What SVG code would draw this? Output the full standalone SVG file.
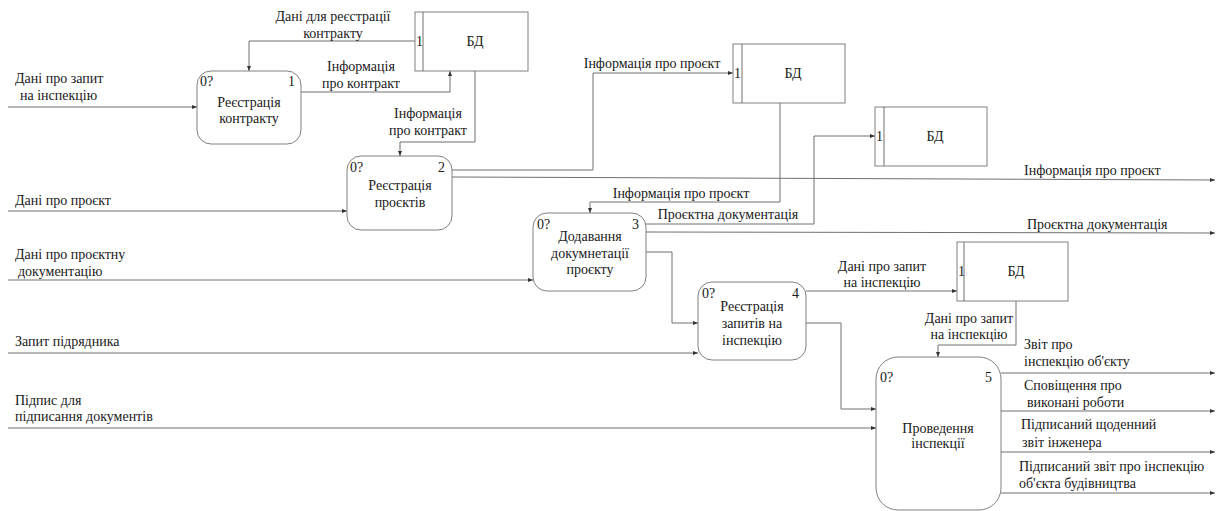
<svg xmlns="http://www.w3.org/2000/svg" width="1224" height="511" viewBox="0 0 1224 511">
  <style>
    text { font-family: "Liberation Serif", "Times New Roman", serif; font-size: 14px; fill: #1a1a1a; }
    .c { text-anchor: middle; }
    .proc { fill: #ffffff; stroke: #808080; stroke-width: 1; }
    .store { fill: #ffffff; stroke: #808080; stroke-width: 1; }
    .flow { fill: none; stroke: #707070; stroke-width: 1; marker-end: url(#arr); }
    .plain { fill: none; stroke: #707070; stroke-width: 1; }
  </style>
  <defs>
    <marker id="arr" markerUnits="userSpaceOnUse" markerWidth="6" markerHeight="6" refX="5" refY="3" orient="auto">
      <path d="M0,1 L5,3 L0,5 z" fill="#333"/>
    </marker>
  </defs>
  <rect width="1224" height="511" fill="#ffffff"/>

  <!-- data flows -->
  <g id="connectors">
    <!-- external inputs -->
    <path class="flow" d="M8,107 H197"/>
    <path class="flow" d="M8,211 H347"/>
    <path class="flow" d="M8,280 H533"/>
    <path class="flow" d="M8,353 H698"/>
    <path class="flow" d="M8,428 H876"/>
    <!-- store 1 <-> process 1 / 2 -->
    <path class="flow" d="M415,41 H249 V71"/>
    <path class="flow" d="M301,92 H450 V71"/>
    <path class="flow" d="M475,71 V142 H400 V156"/>
    <!-- process 2 -->
    <path class="flow" d="M452,170 H593 V73 H733"/>
    <path class="flow" d="M452,177 L1215,180"/>
    <!-- store 2 -> process 3 -->
    <path class="flow" d="M780,103 V202 H590 V213"/>
    <!-- process 3 -->
    <path class="flow" d="M646,224 H814 V136 H875"/>
    <path class="flow" d="M646,232 L1215,233"/>
    <path class="flow" d="M646,252 H672 V323 H698"/>
    <!-- process 4 -->
    <path class="flow" d="M806,291 H957"/>
    <path class="flow" d="M806,323 H841 V409 H876"/>
    <!-- store 4 -> process 5 -->
    <path class="flow" d="M1016,301 V345 H938 V357"/>
    <!-- process 5 outputs -->
    <path class="flow" d="M1001,373 H1215"/>
    <path class="flow" d="M1001,411 H1215"/>
    <path class="flow" d="M1001,452 H1215"/>
    <path class="flow" d="M1001,493 H1215"/>
  </g>

  <!-- flow labels -->
  <g id="flow-labels">
    <text x="15" y="83">Дані про запит</text>
    <text x="20" y="100">на інспекцію</text>
    <text x="15" y="205">Дані про проєкт</text>
    <text x="15" y="259">Дані про проєктну</text>
    <text x="18" y="276">документацію</text>
    <text x="15" y="346">Запит підрядника</text>
    <text x="15" y="405">Підпис для</text>
    <text x="15" y="421">підписання документів</text>

    <text class="c" x="333" y="21">Дані для реєстрації</text>
    <text class="c" x="333" y="38">контракту</text>
    <text class="c" x="361" y="71">Інформація</text>
    <text class="c" x="361" y="88">про контракт</text>
    <text class="c" x="428" y="118">Інформація</text>
    <text class="c" x="428" y="135">про контракт</text>

    <text class="c" x="652" y="68">Інформація про проєкт</text>
    <text class="c" x="681" y="198">Інформація про проєкт</text>
    <text class="c" x="728" y="219">Проєктна документація</text>
    <text x="1024" y="175">Інформація про проєкт</text>
    <text x="1027" y="229">Проєктна документація</text>

    <text class="c" x="882" y="271">Дані про запит</text>
    <text class="c" x="882" y="287">на інспекцію</text>
    <text class="c" x="969" y="323">Дані про запит</text>
    <text class="c" x="969" y="339">на інспекцію</text>

    <text x="1024" y="349">Звіт про</text>
    <text x="1024" y="366">інспекцію об'єкту</text>
    <text x="1024" y="390">Сповіщення про</text>
    <text x="1027" y="407">виконані роботи</text>
    <text x="1021" y="429">Підписаний щоденний</text>
    <text x="1022" y="447">звіт інженера</text>
    <text x="1019" y="471">Підписаний звіт про інспекцію</text>
    <text x="1019" y="488">об'єкта будівництва</text>
  </g>

  <!-- processes -->
  <g id="p1">
    <rect class="proc" x="197" y="71" width="104" height="73" rx="14"/>
    <text x="200" y="86">0?</text>
    <text x="288" y="86">1</text>
    <text class="c" x="249" y="107">Реєстрація</text>
    <text class="c" x="249" y="123">контракту</text>
  </g>
  <g id="p2">
    <rect class="proc" x="347" y="156" width="105" height="74" rx="14"/>
    <text x="350" y="172">0?</text>
    <text x="438" y="172">2</text>
    <text class="c" x="400" y="190">Реєстрація</text>
    <text class="c" x="400" y="207">проєктів</text>
  </g>
  <g id="p3">
    <rect class="proc" x="533" y="213" width="113" height="78" rx="14"/>
    <text x="537" y="229">0?</text>
    <text x="632" y="229">3</text>
    <text class="c" x="590" y="241">Додавання</text>
    <text class="c" x="590" y="258">докумнетації</text>
    <text class="c" x="590" y="274">проєкту</text>
  </g>
  <g id="p4">
    <rect class="proc" x="698" y="282" width="108" height="78" rx="14"/>
    <text x="702" y="298">0?</text>
    <text x="792" y="298">4</text>
    <text class="c" x="752" y="311">Реєстрація</text>
    <text class="c" x="752" y="328">запитів на</text>
    <text class="c" x="752" y="345">інспекцію</text>
  </g>
  <g id="p5">
    <rect class="proc" x="876" y="357" width="125" height="153" rx="22"/>
    <text x="880" y="382">0?</text>
    <text x="985" y="382">5</text>
    <text class="c" x="938" y="433">Проведення</text>
    <text class="c" x="938" y="448">інспекції</text>
  </g>

  <!-- data stores -->
  <g id="s1">
    <rect class="store" x="415" y="12" width="113" height="59"/>
    <line class="plain" x1="423" y1="12" x2="423" y2="71"/>
    <text x="416" y="46">1</text>
    <text class="c" x="475" y="46">БД</text>
  </g>
  <g id="s2">
    <rect class="store" x="733" y="44" width="112" height="59"/>
    <line class="plain" x1="742" y1="44" x2="742" y2="103"/>
    <text x="734" y="78">1</text>
    <text class="c" x="793" y="78">БД</text>
  </g>
  <g id="s3">
    <rect class="store" x="875" y="107" width="112" height="59"/>
    <line class="plain" x1="884" y1="107" x2="884" y2="166"/>
    <text x="876" y="141">1</text>
    <text class="c" x="935" y="141">БД</text>
  </g>
  <g id="s4">
    <rect class="store" x="957" y="242" width="111" height="59"/>
    <line class="plain" x1="964" y1="242" x2="964" y2="301"/>
    <text x="958" y="276">1</text>
    <text class="c" x="1016" y="276">БД</text>
  </g>
</svg>
